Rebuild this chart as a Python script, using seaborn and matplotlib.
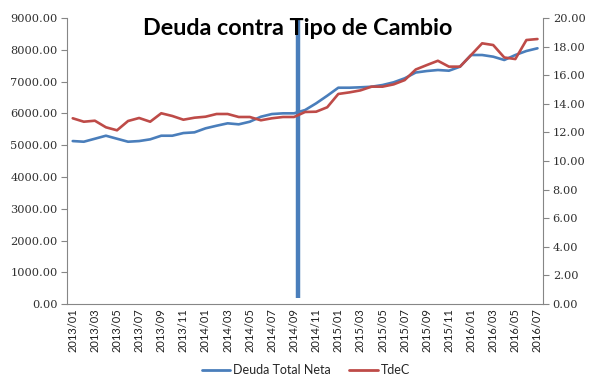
import numpy as np
import pandas as pd
import seaborn as sns
import matplotlib.pyplot as plt
from matplotlib.lines import Line2D

# meses 2013/01 .. 2016/07
meses = [f"{y}/{m:02d}" for y in (2013, 2014, 2015, 2016) for m in range(1, 13)][:43]

deuda = [5129, 5108, 5202, 5297, 5202, 5108, 5129, 5183, 5297, 5297,
         5381, 5403, 5529, 5611, 5687, 5655, 5737, 5894, 5979, 6001,
         6001, 6105, 6316, 6555, 6807, 6807, 6820, 6838, 6892, 6977,
         7103, 7285, 7332, 7364, 7342, 7468, 7836, 7836, 7783, 7679,
         7836, 7962, 8047]

tdec = [12.99, 12.75, 12.82, 12.36, 12.15, 12.80, 13.01, 12.75, 13.34, 13.15,
        12.89, 13.03, 13.10, 13.29, 13.29, 13.08, 13.08, 12.85, 12.99, 13.08,
        13.08, 13.43, 13.45, 13.76, 14.69, 14.80, 14.94, 15.20, 15.20, 15.36,
        15.66, 16.40, 16.71, 17.01, 16.60, 16.60, 17.41, 18.23, 18.11, 17.24,
        17.13, 18.46, 18.53]

# barra vertical (marca en 2014/09)
marca_pos = 20.4
marca_rango = [190, 8970]

azul = "#4A7EBB"
rojo = "#BE4B48"
gris = "#868686"

df = pd.DataFrame({"i": np.arange(len(meses)), "deuda": deuda, "tdec": tdec})

sns.set_style("white")
plt.rcParams["font.family"] = ["Lato", "DejaVu Sans"]

fig, ax = plt.subplots(figsize=(6, 3.83), dpi=100)
fig.subplots_adjust(left=0.112, right=0.905, top=0.953, bottom=0.206)
ax2 = ax.twinx()

sns.lineplot(data=df, x="i", y="deuda", ax=ax, color=azul, linewidth=1.9)
sns.lineplot(data=df, x="i", y="tdec", ax=ax2, color=rojo, linewidth=1.9)
ax.vlines(marca_pos, marca_rango[0], marca_rango[1], color=azul, linewidth=3.2, zorder=5)

n = len(meses)
ax.set_xlim(-0.5, n - 0.5)
ax.set_ylim(0, 9000)
ax2.set_ylim(0, 20)
ax.set_yticks(np.arange(0, 9001, 1000))
ax.set_yticklabels([f"{v:.2f}" for v in np.arange(0, 9001, 1000)],
                   family="DejaVu Serif", fontsize=8.2, color="#303030")
ax2.set_yticks(np.arange(0, 20.1, 2))
ax2.set_yticklabels([f"{v:.2f}" for v in np.arange(0, 20.1, 2)],
                    family="DejaVu Serif", fontsize=8.2, color="#303030")

ax.set_xticks(np.arange(0, n, 2))
ax.set_xticklabels(meses[::2], rotation=90, fontsize=8, color="#202020")
ax.set_xticks(np.arange(-0.5, n, 1), minor=True)
ax.tick_params(axis="x", which="major", length=0, pad=3)
ax.tick_params(axis="x", which="minor", length=4, color=gris, width=0.8, direction="out")
ax.tick_params(axis="y", length=4, color=gris, width=0.8, direction="out", pad=3, left=True)
ax2.tick_params(axis="y", length=4, color=gris, width=0.8, direction="out", pad=3, right=True)

ax.set_xlabel("")
ax.set_ylabel("")
ax2.set_ylabel("")
for a in (ax, ax2):
    a.spines["top"].set_visible(False)
    for s in ("left", "right", "bottom"):
        a.spines[s].set_color(gris)
        a.spines[s].set_linewidth(0.8)
ax.spines["right"].set_visible(False)
ax2.spines["left"].set_visible(False)
ax2.spines["bottom"].set_visible(False)

fig.text(0.496, 0.926, "Deuda contra Tipo de Cambio",
         ha="center", va="center", fontsize=16.8, fontweight="bold", color="black")

handles = [Line2D([], [], color=azul, linewidth=2), Line2D([], [], color=rojo, linewidth=2)]
fig.legend(handles, ["Deuda Total Neta", "TdeC"], loc="center", bbox_to_anchor=(0.51, 0.034),
           ncol=2, frameon=False, fontsize=9, handlelength=2.3, columnspacing=1.45,
           handletextpad=0.25)

fig.savefig("out.png", dpi=100)
